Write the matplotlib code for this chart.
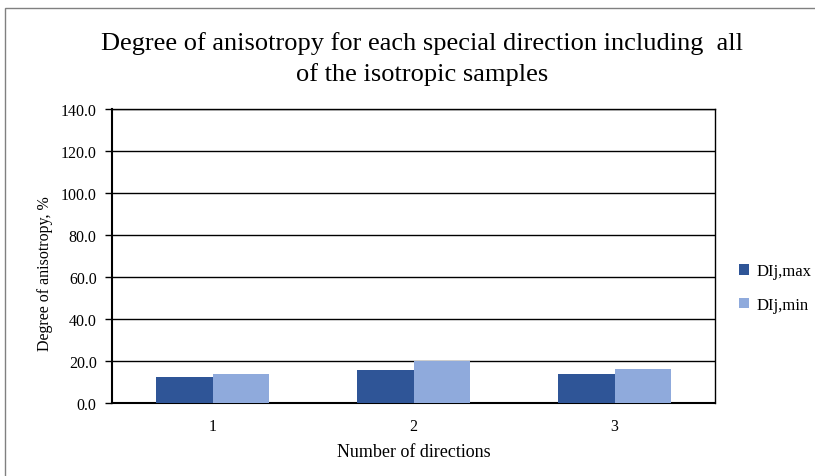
import matplotlib
matplotlib.use("Agg")
import matplotlib.pyplot as plt
import numpy as np
from matplotlib.patches import Rectangle, Patch

categories = ["1", "2", "3"]
series_names = ["DIj,max", "DIj,min"]
di_max = [12.4, 15.9, 14.0]
di_min = [13.8, 19.8, 16.3]
yticks = [0, 20, 40, 60, 80, 100, 120, 140]

plt.rcParams['font.family'] = ['Liberation Serif', 'DejaVu Serif']

W, H = 815, 477
fig = plt.figure(figsize=(W/100, H/100), dpi=100)
ax = fig.add_axes([112/W, 1-404/H, (715-112)/W, (404-110)/H])

x = np.arange(len(categories))
bw = 0.28
c1, c2 = "#2F5597", "#8FAADC"
ax.bar(x - bw/2, di_max, bw, color=c1, zorder=3)
ax.bar(x + bw/2, di_min, bw, color=c2, zorder=3)

ax.set_xlim(-0.5, 2.5)
ax.set_ylim(0, 140)
ax.set_yticks(yticks)
ax.set_yticklabels([f"{v:.1f}" for v in yticks], fontsize=11.5)
ax.set_xticks(x)
ax.set_xticklabels(categories, fontsize=11.5)
ax.tick_params(axis='x', length=0, pad=11)
ax.tick_params(axis='y', length=5, width=1, direction='out', pad=6)
ax.yaxis.grid(True, color='black', linewidth=1, zorder=0)
ax.set_axisbelow(True)
for s in ax.spines.values():
    s.set_color('black')
    s.set_linewidth(1)
ax.spines['left'].set_linewidth(1.5)
ax.spines['bottom'].set_linewidth(1.5)

ax.set_xlabel("Number of directions", fontsize=13, labelpad=6)
ax.set_ylabel("Degree of anisotropy, %", fontsize=11.5)
ax.yaxis.set_label_coords(-0.098, 0.442)

fig.text(422/W, 1-59/H, "Degree of anisotropy for each special direction including  all\nof the isotropic samples",
         ha='center', va='center', fontsize=19, linespacing=1.45)

handles = [Patch(facecolor=c1), Patch(facecolor=c2)]
leg = fig.legend(handles, series_names, loc='center left', bbox_to_anchor=(724/W, 1-289/H),
                 frameon=False, fontsize=12, handlelength=0.6, handleheight=0.6,
                 handletextpad=0.45, labelspacing=1.05)

fig.patches.append(Rectangle((5/W, -0.1), 1.2, 1-9/H+0.1, transform=fig.transFigure,
                             fill=False, edgecolor='#808080', linewidth=1))

fig.savefig("out.png", dpi=100)
